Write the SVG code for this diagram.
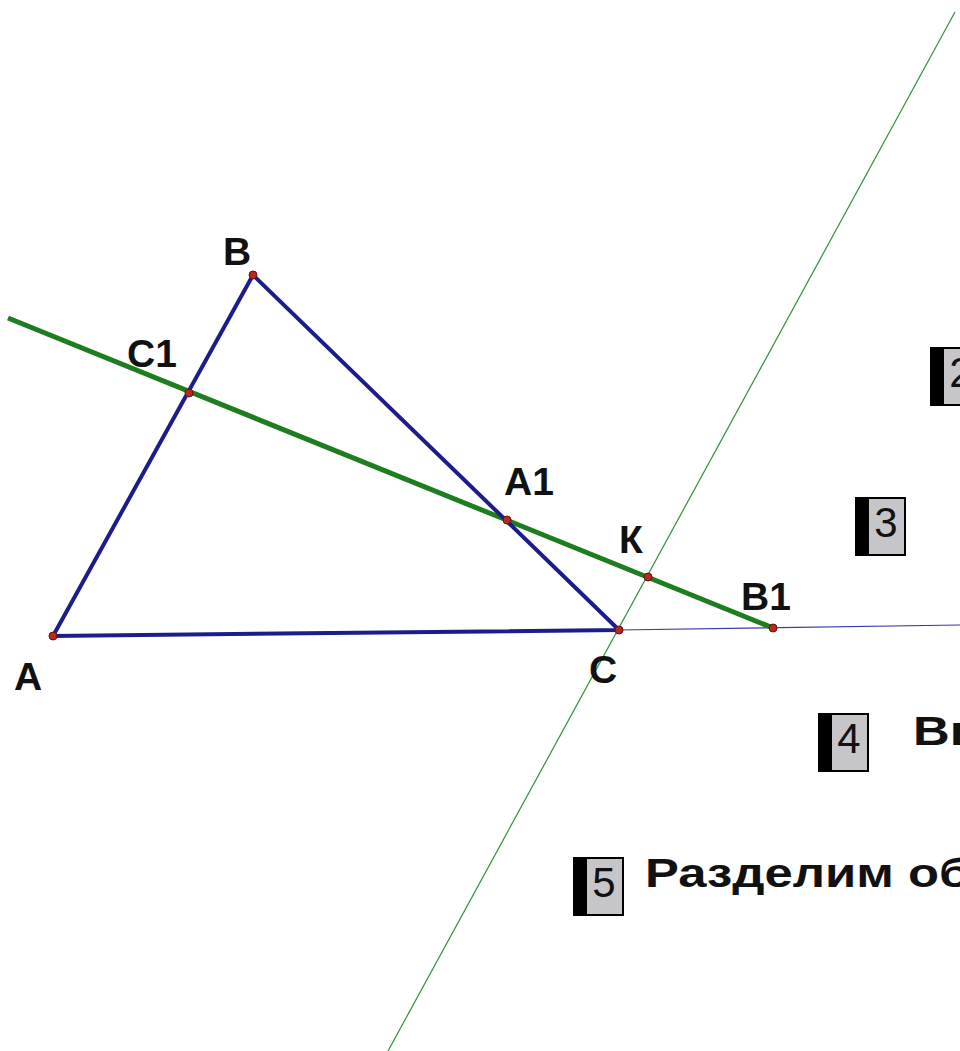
<svg xmlns="http://www.w3.org/2000/svg" width="960" height="1051" viewBox="0 0 960 1051">
<style>
.lbl{font-family:"Liberation Sans",Arial,sans-serif;font-weight:bold;font-size:39px;fill:#111}
.txt{font-family:"Liberation Sans",Arial,sans-serif;font-weight:bold;font-size:40px;fill:#111}
.dig{font-family:"Liberation Sans",Arial,sans-serif;font-size:42px;fill:#111;text-anchor:middle}
.tri{stroke:#1c1c8a;stroke-width:4;stroke-linecap:round;fill:none}
.gl{stroke:#1e7d1e;stroke-width:5;fill:none}
.thing{stroke:#2f8f3a;stroke-width:1.2;fill:none}
.thinb{stroke:#3a3aa8;stroke-width:1.2;fill:none}
.pt{fill:#b8281c;stroke:#6a1010;stroke-width:1}
.bk{fill:#000}
.gr{fill:#c6c6ca}
</style>
<rect width="960" height="1051" fill="#fff"/>
<g id="connectors">
<line class="thing" x1="955" y1="12" x2="388" y2="1051"/>
<line class="thinb" x1="619" y1="630" x2="960" y2="625"/>
<line class="gl" x1="8" y1="318" x2="773" y2="628"/>
<polyline class="tri" points="619,630 253,275 53,636 619,630"/>
</g>
<g id="points">
<circle class="pt" cx="253" cy="275" r="4"/>
<circle class="pt" cx="53" cy="636" r="4"/>
<circle class="pt" cx="619" cy="630" r="4"/>
<circle class="pt" cx="189" cy="393" r="4"/>
<circle class="pt" cx="507" cy="520" r="4"/>
<circle class="pt" cx="648" cy="577" r="4"/>
<circle class="pt" cx="773" cy="628" r="4"/>
</g>
<g id="labels">
<text class="lbl" x="223" y="265">B</text>
<text class="lbl" x="127" y="367">C1</text>
<text class="lbl" x="504" y="495">A1</text>
<text class="lbl" x="619" y="553">К</text>
<text class="lbl" x="741" y="610">B1</text>
<text class="lbl" x="14" y="690">A</text>
<text class="lbl" x="589" y="683">C</text>
</g>
<g id="box2">
<rect class="bk" x="930" y="347" width="51" height="59"/>
<rect class="gr" x="944" y="349" width="35" height="55"/>
<text class="dig" x="961" y="387">2</text>
</g>
<g id="box3">
<rect class="bk" x="855" y="497" width="51" height="59"/>
<rect class="gr" x="869" y="499" width="35" height="55"/>
<text class="dig" x="886" y="537">3</text>
</g>
<g id="box4">
<rect class="bk" x="818" y="713" width="51" height="59"/>
<rect class="gr" x="832" y="715" width="35" height="55"/>
<text class="dig" x="849" y="753">4</text>
<text class="txt" transform="translate(913,745) scale(1.27,1)" x="0" y="0">Вы</text>
</g>
<g id="box5">
<rect class="bk" x="573" y="857" width="51" height="59"/>
<rect class="gr" x="587" y="859" width="35" height="55"/>
<text class="dig" x="604" y="897">5</text>
<text class="txt" transform="translate(645,887) scale(1.27,1)" x="0" y="0">Разделим обе</text>
</g>
</svg>
